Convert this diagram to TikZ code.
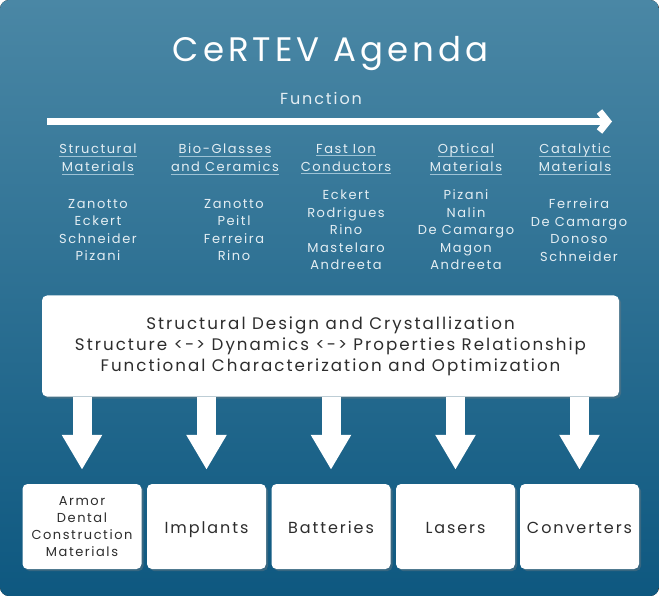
\documentclass[tikz,border=0pt]{standalone}
\usepackage{fontspec}
\setmainfont{Poppins}[LetterSpace=12]
\usepackage{xcolor}
\usetikzlibrary{arrows.meta,positioning,shadows,calc}
\definecolor{fondhaut}{RGB}{74,135,165}
\definecolor{fondbas}{RGB}{14,88,128}
\definecolor{clair}{RGB}{228,238,243}
\definecolor{trait}{RGB}{158,195,214}
\definecolor{encre}{RGB}{45,45,45}
% souligne un mot d'entete
\newcommand{\hdrul}[1]{\setbox0=\hbox{#1}\rlap{\color{trait}\rule[-3pt]{\wd0}{0.8pt}}\box0}

\begin{document}
\begin{tikzpicture}[x=1pt,y=-1pt,
    entete/.style={text=clair,font=\fontsize{13}{18}\selectfont,align=center},
    noms/.style={text=clair,font=\fontsize{13}{17.5}\selectfont,align=center},
    boite/.style={fill=white,rounded corners=5pt,text=encre,align=center,
      drop shadow={opacity=0.35,shadow xshift=2pt,shadow yshift=-2pt}},
    sortie/.style={boite,minimum width=119pt,minimum height=85pt,inner sep=0pt,
      font=\fontsize{16}{20}\selectfont},
    fleche/.style={white,line width=19pt,shorten >=14pt,
      -{Triangle[length=35pt,width=38pt]}}]
  % cadre
  \useasboundingbox (0,0) rectangle (659,596);
  \fill[rounded corners=9pt,top color=fondhaut,bottom color=fondbas]
    (0,0) rectangle (659,596);
  \node[text=white,font=\fontsize{34}{40}\selectfont] (titre) at (330.5,54) {CeRTEV Agenda};
  \node[text=clair,font=\fontsize{16}{20}\selectfont] (fonction) at (321,98) {Function};
  \coordinate (fdeb) at (47,121.5);
  \coordinate (ffin) at (612,121.5);
  \draw[white,line width=7pt,-{Straight Barb[length=8pt,width=20pt]}] (fdeb) -- (ffin);
  % domaines
  \foreach \i/\x/\ta/\tb in {1/98/Structural/Materials,2/225/Bio-Glasses/and Ceramics,
      3/346/Fast Ion/Conductors,4/466/Optical/Materials,5/575/Catalytic/Materials}{
    \node[entete] (ent\i) at (\x,159) {\hdrul{\ta}\\\hdrul{\tb}};}
  \foreach \i/\x/\qui in {1/98/{Zanotto\\Eckert\\Schneider\\Pizani},
      2/234/{Zanotto\\Peitl\\Ferreira\\Rino},
      3/346/{Eckert\\Rodrigues\\Rino\\Mastelaro\\Andreeta},
      4/466/{Pizani\\Nalin\\De Camargo\\Magon\\Andreeta},
      5/579/{Ferreira\\De Camargo\\Donoso\\Schneider}}{
    \node[noms] (noms\i) at (\x,230) {\qui};}
  % bloc central
  \node[boite,minimum width=577pt,minimum height=101pt,inner sep=0pt,
    font=\fontsize{16.7}{21}\selectfont] (milieu) at (330.5,346)
    {Structural Design and Crystallization\\
     Structure <-> Dynamics <-> Properties Relationship\\
     Functional Characterization and Optimization};
  % applications
  \node[sortie,font=\fontsize{13}{17}\selectfont] (out1) at (82,526.5)
    {Armor\\Dental\\Construction\\Materials};
  \foreach \i/\x/\app in {2/206.5/Implants,3/331/Batteries,4/455.5/Lasers,5/579.5/Converters}{
    \node[sortie,text height=13pt,text depth=0pt] (out\i) at (\x,526.5) {\app};}
  \foreach \i in {1,...,5}{
    \draw[fleche] (milieu.south -| out\i.north) -- (out\i.north);}
\end{tikzpicture}
\end{document}
